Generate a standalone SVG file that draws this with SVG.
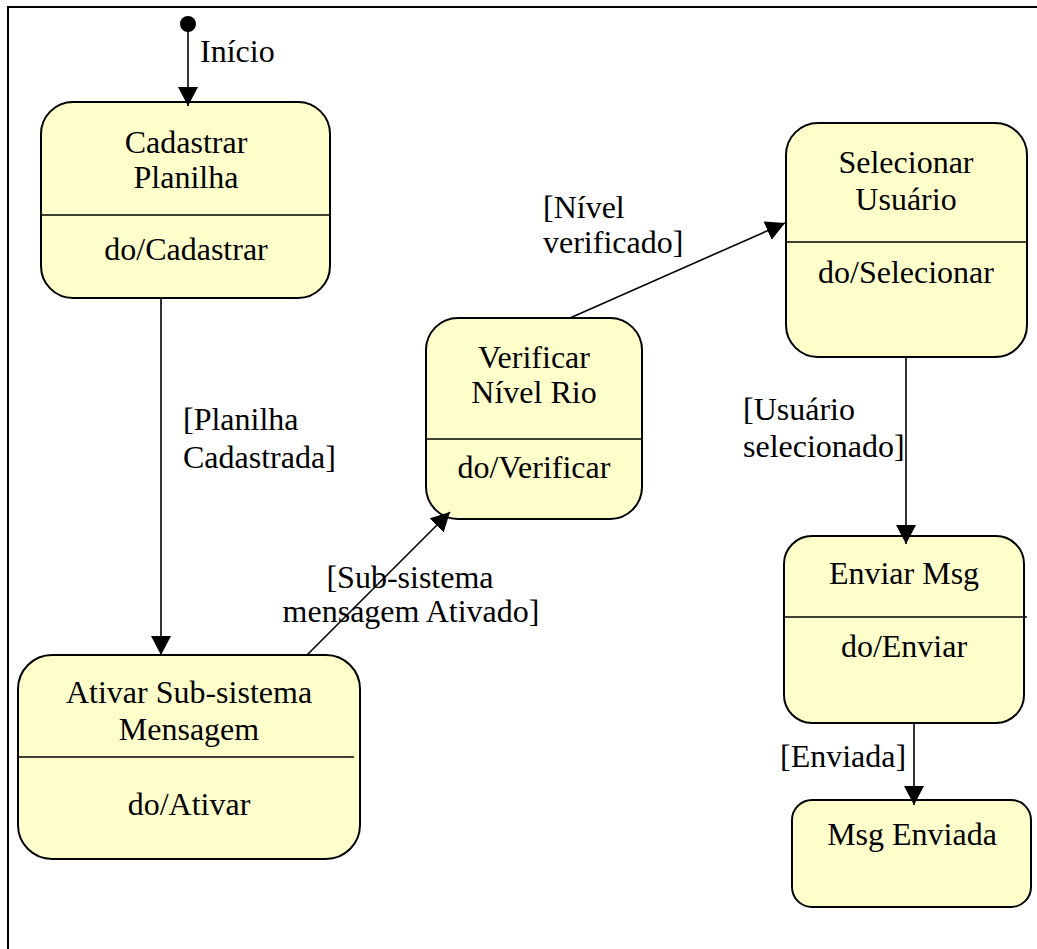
<svg xmlns="http://www.w3.org/2000/svg" width="1037" height="949" viewBox="0 0 1037 949">
  <style>
    .state { fill: #FFFFCC; stroke: #000; stroke-width: 2; }
    .sep { stroke: #000; stroke-width: 1.6; }
    .edge { stroke: #000; stroke-width: 1.6; fill: none; marker-end: url(#arrow); }
    text { font-family: "Liberation Serif", "Times New Roman", "DejaVu Serif", serif; font-size: 32px; fill: #000; }
    .c { text-anchor: middle; }
  </style>
  <defs>
    <marker id="arrow" viewBox="0 0 20 20" refX="19" refY="10" markerWidth="20" markerHeight="20" markerUnits="userSpaceOnUse" orient="auto">
      <path d="M0,0 L19,10 L0,20 z" fill="#000"/>
    </marker>
  </defs>

  <rect width="1037" height="949" fill="#fff"/>

  <!-- outer frame: top and left sides only -->
  <path d="M8,949 L8,7 L1037,7" fill="none" stroke="#000" stroke-width="2"/>

  <g font-family="Liberation Serif, Times New Roman, serif" font-size="32">

  <!-- initial pseudo-state -->
  <g id="initial">
    <circle cx="188" cy="24" r="8" fill="#000"/>
    <text x="200" y="62">Início</text>
  </g>

  <g id="cadastrar-planilha">
    <rect class="state" x="41" y="102" width="289" height="196" rx="32" ry="32"/>
    <line class="sep" x1="41" y1="215" x2="330" y2="215"/>
    <text class="c" x="186" y="153">Cadastrar</text>
    <text class="c" x="186" y="188">Planilha</text>
    <text class="c" x="186" y="260">do/Cadastrar</text>
  </g>

  <g id="ativar-subsistema">
    <rect class="state" x="18" y="655" width="342" height="204" rx="34" ry="34"/>
    <line class="sep" x1="18" y1="757" x2="354" y2="757"/>
    <text class="c" x="189" y="703">Ativar Sub-sistema</text>
    <text class="c" x="189" y="740">Mensagem</text>
    <text class="c" x="189" y="815">do/Ativar</text>
  </g>

  <g id="verificar-nivel">
    <rect class="state" x="426" y="318" width="216" height="201" rx="32" ry="32"/>
    <line class="sep" x1="426" y1="439" x2="642" y2="439"/>
    <text class="c" x="534" y="368">Verificar</text>
    <text class="c" x="534" y="403">Nível Rio</text>
    <text class="c" x="534" y="478">do/Verificar</text>
  </g>

  <g id="selecionar-usuario">
    <rect class="state" x="786" y="123" width="241" height="234" rx="32" ry="32"/>
    <line class="sep" x1="786" y1="242" x2="1027" y2="242"/>
    <text class="c" x="906" y="173">Selecionar</text>
    <text class="c" x="906" y="210">Usuário</text>
    <text class="c" x="906" y="283">do/Selecionar</text>
  </g>

  <g id="enviar-msg">
    <rect class="state" x="784" y="536" width="240" height="187" rx="28" ry="28"/>
    <line class="sep" x1="784" y1="617" x2="1027" y2="617"/>
    <text class="c" x="904" y="584">Enviar Msg</text>
    <text class="c" x="904" y="657">do/Enviar</text>
  </g>

  <g id="msg-enviada">
    <rect class="state" x="792" y="800" width="239" height="107" rx="20" ry="20"/>
    <text class="c" x="912" y="845">Msg Enviada</text>
  </g>

  <!-- transitions and guard labels -->
  <g id="connectors">
    <line class="edge" x1="188" y1="24" x2="188" y2="106"/>
    <line class="edge" x1="161" y1="298" x2="161" y2="655"/>
    <line class="edge" x1="307" y1="655" x2="450" y2="512"/>
    <line class="edge" x1="570" y1="318" x2="785" y2="223"/>
    <line class="edge" x1="906" y1="357" x2="906" y2="544"/>
    <line class="edge" x1="914" y1="723" x2="914" y2="805"/>

    <text x="183" y="430">[Planilha</text>
    <text x="183" y="468">Cadastrada]</text>
    <text class="c" x="410" y="588">[Sub-sistema</text>
    <text class="c" x="411" y="622">mensagem Ativado]</text>
    <text x="543" y="218">[Nível</text>
    <text x="543" y="253">verificado]</text>
    <text x="743" y="420">[Usuário</text>
    <text x="743" y="457">selecionado]</text>
    <text x="780" y="767">[Enviada]</text>
  </g>

  </g>
</svg>
